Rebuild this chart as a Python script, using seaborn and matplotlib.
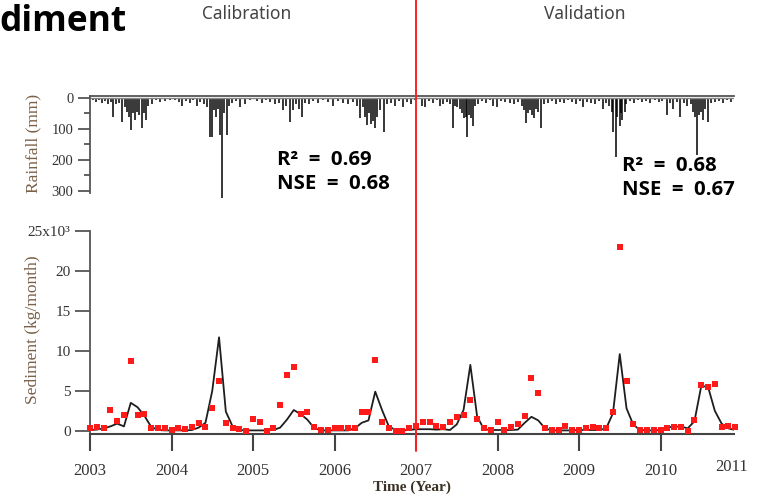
import numpy as np
import pandas as pd
import matplotlib
matplotlib.use("Agg")
import matplotlib.pyplot as plt
import matplotlib.transforms as mtransforms
from matplotlib.lines import Line2D
import seaborn as sns

# ---------------- data ----------------
# daily rainfall events (decimal year, mm)
rain_year = [
    2003.04, 2003.07, 2003.11, 2003.15, 2003.18, 2003.22, 2003.26, 2003.28, 2003.32, 2003.36,
    2003.39, 2003.43, 2003.45, 2003.48, 2003.50, 2003.53, 2003.55, 2003.58, 2003.60, 2003.64,
    2003.66, 2003.69, 2003.71, 2003.76, 2003.81, 2003.86, 2003.92, 2003.98,
    2004.04, 2004.09, 2004.13, 2004.18, 2004.23, 2004.26, 2004.31, 2004.35, 2004.40, 2004.44,
    2004.47, 2004.50, 2004.52, 2004.55, 2004.57, 2004.60, 2004.62, 2004.64, 2004.68, 2004.71,
    2004.74, 2004.79, 2004.84, 2004.90, 2004.96,
    2005.05, 2005.11, 2005.16, 2005.21, 2005.27, 2005.32, 2005.37, 2005.40, 2005.45, 2005.49,
    2005.53, 2005.56, 2005.60, 2005.64, 2005.69, 2005.74, 2005.80, 2005.86, 2005.92, 2005.98,
    2006.04, 2006.10, 2006.17, 2006.23, 2006.28, 2006.31, 2006.35, 2006.37, 2006.40, 2006.42,
    2006.45, 2006.47, 2006.50, 2006.52, 2006.56, 2006.61, 2006.64, 2006.69, 2006.74, 2006.79,
    2006.84, 2006.89, 2006.94, 2006.99,
    2007.07, 2007.11, 2007.16, 2007.21, 2007.26, 2007.29, 2007.33, 2007.38, 2007.42, 2007.45,
    2007.48, 2007.50, 2007.54, 2007.56, 2007.59, 2007.61, 2007.63, 2007.65, 2007.67, 2007.70,
    2007.72, 2007.76, 2007.81, 2007.86, 2007.91, 2007.94, 2007.99,
    2008.04, 2008.09, 2008.15, 2008.20, 2008.25, 2008.30, 2008.33, 2008.35, 2008.37, 2008.40,
    2008.42, 2008.45, 2008.47, 2008.50, 2008.53, 2008.57, 2008.62, 2008.67, 2008.72, 2008.77,
    2008.82, 2008.87, 2008.91, 2008.96,
    2009.01, 2009.05, 2009.10, 2009.15, 2009.20, 2009.25, 2009.29, 2009.33, 2009.37, 2009.40,
    2009.42, 2009.45, 2009.47, 2009.50, 2009.52, 2009.53, 2009.56, 2009.58, 2009.62, 2009.67,
    2009.72, 2009.77, 2009.82, 2009.87, 2009.93, 2009.98,
    2010.02, 2010.08, 2010.12, 2010.15, 2010.20, 2010.24, 2010.29, 2010.33, 2010.37, 2010.40,
    2010.42, 2010.45, 2010.47, 2010.50, 2010.52, 2010.55, 2010.58, 2010.62, 2010.67, 2010.72,
    2010.77, 2010.82, 2010.87,
]
rain_mm = [
    8, 12, 6, 15, 10, 18, 12, 60, 20, 15,
    77, 30, 45, 60, 103, 50, 70, 45, 55, 97,
    50, 70, 25, 20, 8, 12, 10, 6,
    8, 12, 25, 10, 15, 8, 25, 12, 20, 30,
    125, 126, 40, 60, 35, 120, 322, 50, 120, 25,
    15, 10, 30, 20, 8,
    10, 15, 8, 12, 20, 15, 40, 25, 77, 40,
    20, 35, 61, 15, 20, 10, 15, 8, 12, 25,
    10, 15, 20, 12, 25, 65, 30, 60, 87, 50,
    85, 75, 97, 60, 40, 110, 20, 15, 25, 10,
    30, 12, 20, 8,
    25, 30, 10, 15, 8, 25, 20, 12, 18, 97,
    25, 30, 35, 50, 65, 60, 126, 55, 65, 90,
    25, 20, 10, 15, 8, 25, 30,
    10, 12, 15, 18, 12, 25, 40, 81, 50, 40,
    55, 65, 35, 45, 97, 20, 15, 10, 20, 12,
    15, 8, 12, 18,
    10, 30, 12, 15, 20, 10, 35, 15, 25, 45,
    110, 190, 60, 90, 50, 70, 45, 20, 10, 15,
    8, 12, 10, 15, 8, 12,
    10, 55, 15, 35, 12, 60, 15, 25, 20, 45,
    61, 185, 55, 45, 70, 35, 77, 15, 12, 10,
    15, 8, 12,
]

# monthly sediment (x10^3 kg/month), Jan 2003 .. Dec 2010
month_index = list(range(96))
sed_observed = [
    0.3, 0.5, 0.3, 2.6, 1.2, 2.0, 8.75, 2.0, 2.1, 0.3, 0.3, 0.3,
    0.15, 0.3, 0.2, 0.5, 1.0, 0.5, 2.9, 6.2, 1.0, 0.3, 0.2, 0.0,
    1.5, 1.15, 0.0, 0.35, 3.25, 7.0, 8.0, 2.1, 2.3, 0.5, 0.15, 0.15,
    0.3, 0.3, 0.3, 0.35, 2.4, 2.3, 8.9, 1.05, 0.35, 0.0, 0.0, 0.3,
    0.6, 1.1, 1.1, 0.6, 0.45, 1.1, 1.75, 2.0, 3.9, 1.45, 0.3, 0.1,
    1.1, 0.1, 0.45, 0.8, 1.8, 6.65, 4.7, 0.3, 0.1, 0.1, 0.6, 0.1,
    0.1, 0.3, 0.45, 0.3, 0.3, 2.3, 23.0, 6.2, 0.8, 0.1, 0.1, 0.1,
    0.1, 0.3, 0.45, 0.45, 0.0, 1.3, 5.75, 5.45, 5.9, 0.45, 0.6, 0.45,
]
sed_simulated = [
    0.1, 0.15, 0.3, 0.55, 0.9, 0.55, 3.5, 2.95, 1.9, 0.5, 0.1, 0.05,
    0.05, 0.05, 0.05, 0.1, 0.4, 1.0, 5.0, 11.7, 2.4, 0.55, 0.1, 0.05,
    0.05, 0.05, 0.05, 0.1, 0.4, 1.4, 2.6, 2.1, 1.4, 0.35, 0.05, 0.05,
    0.05, 0.05, 0.05, 0.3, 1.0, 1.3, 4.9, 2.6, 0.55, 0.1, 0.05, 0.1,
    0.2, 0.2, 0.2, 0.15, 0.2, 0.1, 0.8, 2.6, 8.25, 1.8, 0.2, 0.1,
    0.1, 0.1, 0.1, 0.15, 1.0, 1.75, 1.3, 0.3, 0.05, 0.05, 0.05, 0.05,
    0.1, 0.1, 0.1, 0.1, 0.3, 2.2, 9.6, 2.8, 0.75, 0.1, 0.05, 0.05,
    0.1, 0.45, 0.5, 0.55, 0.3, 1.2, 5.6, 5.5, 2.5, 0.9, 0.3, 0.1,
]
year_ticks = [2003, 2004, 2005, 2006, 2007, 2008, 2009, 2010]
sed_ticks = [0, 5, 10, 15, 20, 25]
sed_tick_labels = ["0", "5", "10", "15", "20", "25x10\u00b3"]
rain_ticks = [0, 100, 200, 300]
split_year = 2007

# ---------------- style ----------------
sns.set_theme(style="white")
plt.rcParams["font.family"] = ["Liberation Serif", "DejaVu Serif"]

W, H = 759, 496
fig = plt.figure(figsize=(W / 100, H / 100), dpi=100)
fig.patch.set_facecolor("white")

x0_px, x1_px = 90, 734
px_per_year = 81.5
xmin = 2003.0
xmax = 2003.0 + (x1_px - x0_px) / px_per_year

ax_r = fig.add_axes([x0_px / W, 1 - 198.75 / H, (x1_px - x0_px) / W, 103.25 / H])
ax_s = fig.add_axes([x0_px / W, 1 - 434 / H, (x1_px - x0_px) / W, 203 / H])

spine_col = "#555555"
tick_lab_col = "#333333"
label_col = "#7b6048"

# ---------- rainfall ----------
ax_r.vlines(rain_year, 0, rain_mm, color="black", lw=1.1, clip_on=False)
ax_r.axhline(0, color="#888888", lw=1.0)
ax_r.set_xlim(xmin, xmax)
ax_r.set_ylim(325, -8)
for s in ["bottom", "right"]:
    ax_r.spines[s].set_visible(False)
ax_r.spines["top"].set_color("#555555")
ax_r.spines["top"].set_linewidth(1.3)
ax_r.spines["left"].set_color(spine_col)
ax_r.spines["left"].set_linewidth(1.3)
ax_r.spines["left"].set_bounds(-8, 305)
ax_r.set_xticks([])
ax_r.set_yticks(rain_ticks)
ax_r.set_yticks([50, 150, 250], minor=True)
ax_r.tick_params(axis="y", which="major", direction="out", length=9, width=1.3,
                 color=spine_col, labelsize=10.5, labelcolor=tick_lab_col, pad=3, left=True)
ax_r.tick_params(axis="y", which="minor", direction="out", length=4, width=1.3,
                 color=spine_col, left=True)
ax_r.set_facecolor("none")

# ---------- sediment ----------
df_obs = pd.DataFrame({"year": [2003 + m / 12 for m in month_index], "sed": sed_observed})
df_sim = pd.DataFrame({"year": [2003 + m / 12 for m in month_index], "sed": sed_simulated})
sns.lineplot(data=df_sim, x="year", y="sed", ax=ax_s, color="#1e1e1e", lw=1.3)
sns.scatterplot(data=df_obs, x="year", y="sed", ax=ax_s, color="#ff1a1a", marker="s",
                s=16, linewidth=0, zorder=5, clip_on=False)
ax_s.set_xlim(xmin, xmax)
ax_s.set_ylim(-0.4, 25)
for s in ["top", "right"]:
    ax_s.spines[s].set_visible(False)
ax_s.spines["left"].set_color(spine_col)
ax_s.spines["left"].set_linewidth(1.3)
ax_s.spines["bottom"].set_color("#444444")
ax_s.spines["bottom"].set_linewidth(1.5)
ax_s.set_yticks(sed_ticks)
ax_s.set_yticklabels(sed_tick_labels)
ax_s.set_xticks(year_ticks)
ax_s.set_xticklabels([str(y) for y in year_ticks])
ax_s.tick_params(axis="y", direction="out", length=11, width=1.3, color=spine_col,
                 labelsize=11, labelcolor=tick_lab_col, pad=3, left=True)
ax_s.tick_params(axis="x", direction="out", length=12, width=1.5, color="#444444",
                 labelsize=12, labelcolor=tick_lab_col, pad=9, bottom=True)
ax_s.set_xlabel("")
ax_s.set_ylabel("")
ax_s.set_facecolor("none")

# 2011 label at the right end of the axis
fig.text(732 / W, 1 - 467 / H, "2011", ha="center", va="center", fontsize=12,
         color=tick_lab_col)

# axis titles
fig.text(33 / W, 1 - 143 / H, "Rainfall (mm)", rotation=90, ha="center", va="center",
         fontsize=12.5, color=label_col)
fig.text(33 / W, 1 - 330 / H, "Sediment (kg/month)", rotation=90, ha="center", va="center",
         fontsize=12.5, color=label_col)
fig.text(412 / W, 1 - 487 / H, "Time (Year)", ha="center", va="center", fontsize=11,
         fontweight="bold", color="#3b3226")

# calibration / validation split line
trans = mtransforms.blended_transform_factory(ax_s.transData, fig.transFigure)
fig.add_artist(Line2D([split_year, split_year], [1.0, 1 - 451 / H], transform=trans,
                      color="#ff2020", lw=1.4))

sans = ["Noto Sans", "DejaVu Sans"]
bold_sans = ["Open Sans", "DejaVu Sans"]
fig.text(247 / W, 1 - 14 / H, "Calibration", ha="center", va="center", fontsize=12.5,
         color="#444444", family=sans)
fig.text(584.5 / W, 1 - 14 / H, "Validation", ha="center", va="center", fontsize=12.5,
         color="#444444", family=sans)
fig.text(-1 / W, 1 - 22 / H, "diment", ha="left", va="center", fontsize=25.5,
         fontweight="bold", color="black", family=bold_sans)

# goodness-of-fit annotations
for xpx, ypx, txt in [(277, 160, "R\u00b2  =  0.69"), (277, 184, "NSE  =  0.68"),
                      (622, 166, "R\u00b2  =  0.68"), (622, 190, "NSE  =  0.67")]:
    fig.text(xpx / W, 1 - ypx / H, txt, ha="left", va="center", fontsize=14.7,
             fontweight="bold", color="black", family=bold_sans)

fig.savefig("out.png", dpi=100, facecolor="white")
